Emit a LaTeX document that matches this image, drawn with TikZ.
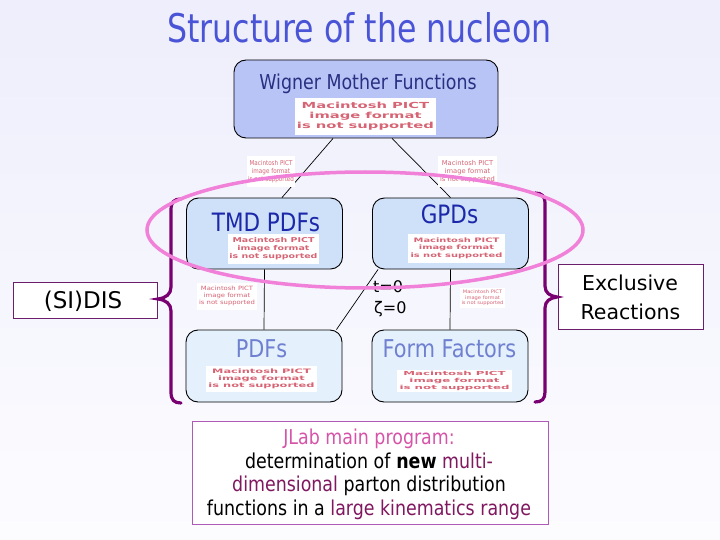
\documentclass[tikz,border=0pt]{standalone}
\usepackage{fontspec}
\usepackage{graphicx}
\setmainfont{DejaVu Sans}
\newfontfamily\tahoma[FakeStretch=0.85]{DejaVu Sans}
\newfontfamily\titlefnt[FakeStretch=0.8]{DejaVu Sans}
\newfontfamily\pictfnt{DejaVu Sans}
\newcommand\fsz[1]{\fontsize{#1}{#1}\selectfont}
\newcommand\pictbold[2]{\resizebox*{#1}{#2}{\pictfnt\bfseries\begin{tabular}{@{}c@{}}Macintosh PICT\\image format\\is not supported\end{tabular}}}
\newcommand\pictthin[2]{\resizebox*{#1}{#2}{\pictfnt\begin{tabular}{@{}c@{}}Macintosh PICT\\image format\\is not supported\end{tabular}}}
\definecolor{bgtop}{RGB}{238,238,252}
\definecolor{bgbot}{RGB}{252,252,255}
\definecolor{titleblue}{RGB}{74,84,214}
\definecolor{wignavy}{RGB}{40,48,130}
\definecolor{wigfill}{RGB}{184,196,246}
\definecolor{midfill}{RGB}{207,225,248}
\definecolor{midtext}{RGB}{28,40,170}
\definecolor{lowfill}{RGB}{228,240,252}
\definecolor{lowtext}{RGB}{112,128,208}
\definecolor{pictred}{RGB}{214,100,116}
\definecolor{bracecol}{RGB}{120,0,112}
\definecolor{ringcol}{RGB}{240,128,216}
\definecolor{frame}{RGB}{107,30,107}
\definecolor{labframe}{RGB}{176,90,184}
\definecolor{jpink}{RGB}{214,84,168}
\definecolor{jpurp}{RGB}{128,24,96}
\begin{document}
\begin{tikzpicture}[x=1pt,y=-1pt,
  rbox/.style={draw=black, line width=0.9pt, rounded corners=12pt, inner sep=0pt},
  wigbox/.style={rbox, fill=wigfill},
  midbox/.style={rbox, fill=midfill, minimum width=156pt, minimum height=71pt},
  lowbox/.style={rbox, fill=lowfill, minimum width=156pt, minimum height=72pt},
  sidebox/.style={draw=frame, line width=0.8pt, fill=white, inner sep=0pt},
  labbox/.style={draw=labframe, line width=0.9pt, fill=white, inner sep=0pt},
  txt/.style={inner sep=0pt, anchor=base},
  pict/.style={fill=white, inner sep=0pt, text=pictred},
  link/.style={draw=black, line width=0.7pt},
  brace/.style={draw=bracecol, line width=3.2pt, line cap=round},
  ring/.style={draw=ringcol, line width=3.5pt}]
\shade[top color=bgtop, bottom color=bgbot] (0pt,0pt) rectangle (720pt,-540pt);
% title
\node[txt, text=titleblue] (title) at (359.5,43) {\titlefnt\fsz{39.5}Structure of the nucleon};
% boxes
\node[wigbox, minimum width=264pt, minimum height=78pt] (wig) at (366,99) {};
\node[midbox] (tmd) at (264.5,233.5) {};
\node[midbox] (gpd) at (450.5,233.5) {};
\node[lowbox] (pdf) at (264,366) {};
\node[lowbox] (ff) at (450,366) {};
\node[sidebox, minimum width=144pt, minimum height=36pt] (sidis) at (85,300) {};
\node[sidebox, minimum width=145pt, minimum height=65pt] (excl) at (630.5,296.5) {};
\node[labbox, minimum width=356pt, minimum height=103pt] (jlab) at (370,472.5) {};
% connectors
\draw[link] ([xshift=-33pt]wig.south) -- ([xshift=17.5pt]tmd.north);
\draw[link] ([xshift=26pt]wig.south) -- (gpd.north);
\draw[link] (tmd.south) -- (pdf.north);
\draw[link] (gpd.south) -- (ff.north);
\draw[link] ([xshift=6pt]gpd.south west) -- ([xshift=-6pt]pdf.north east);
% texts in boxes
\node[txt, text=wignavy] (wigt) at (368,90) {\tahoma\fsz{20.5}Wigner Mother Functions};
\node[txt, text=midtext] (tmdt) at (266,231) {\tahoma\fsz{25.3}TMD PDFs};
\node[txt, text=midtext] (gpdt) at (449.5,223) {\tahoma\fsz{25.3}GPDs};
\node[txt, text=lowtext] (pdft) at (261.5,357) {\tahoma\fsz{24.5}PDFs};
\node[txt, text=lowtext] (fft) at (449.5,357) {\tahoma\fsz{24.5}Form Factors};
\node[txt] (sidist) at (83,308) {\fsz{23}(SI)DIS};
\node[txt] (exclt1) at (630,290) {\fsz{20.5}Exclusive};
\node[txt] (exclt2) at (630.5,319) {\fsz{20.5}Reactions};
\node[txt, anchor=base west] (tzero) at (373,292) {\fsz{16}t=0};
\node[txt, anchor=base west] (zzero) at (374,313) {\fsz{16}ζ=0};
% placeholders
\node[pict, minimum width=141pt, minimum height=37pt] (p1) at (365.5,116.5) {\pictbold{137pt}{30pt}};
\node[pict, minimum width=48pt, minimum height=31pt] (p2) at (271,171.5) {\pictthin{46pt}{24pt}};
\node[pict, minimum width=59pt, minimum height=31pt] (p3) at (467.5,171.5) {\pictthin{55pt}{24pt}};
\node[pict, minimum width=91pt, minimum height=30pt] (p4) at (273.5,249) {\pictbold{88pt}{24pt}};
\node[pict, minimum width=97pt, minimum height=29pt] (p5) at (456.5,248.5) {\pictbold{92pt}{22pt}};
\node[pict, minimum width=60pt, minimum height=27pt] (p6) at (227,296.5) {\pictthin{56pt}{21pt}};
\node[pict, minimum width=111pt, minimum height=26pt] (p7) at (261.5,379) {\pictbold{106pt}{22pt}};
\node[pict, minimum width=45pt, minimum height=20pt] (p8) at (482.5,298) {\pictthin{42pt}{17pt}};
\node[pict, minimum width=115pt, minimum height=22pt] (p9) at (454.5,381) {\pictbold{110pt}{20pt}};
% JLab text
\node[txt, text=jpink] (j1) at (369,444.5) {\tahoma\fsz{20.5}JLab main program:};
\node[txt] (j2) at (369,468) {\tahoma\fsz{20.5}determination of \textbf{new} \textcolor{jpurp}{multi-}};
\node[txt] (j3) at (369,491.5) {\tahoma\fsz{20.5}\textcolor{jpurp}{dimensional} parton distribution};
\node[txt] (j4) at (369,515) {\tahoma\fsz{20.5}functions in a \textcolor{jpurp}{large kinematics range}};
% braces
\draw[brace] (181,199) .. controls (174,199) and (171,202) .. (171,210) -- (171,287)
  .. controls (171,294) and (166,298) .. (158,299) .. controls (166,300) and (171,304) .. (171,311)
  -- (171,392) .. controls (171,400) and (174,403) .. (181,403);
\draw[brace] (535,193) .. controls (542,193) and (545,196) .. (545,204) -- (545,286)
  .. controls (545,293) and (550,296) .. (557,297) .. controls (550,298) and (545,301) .. (545,308)
  -- (545,392) .. controls (545,399) and (542,402) .. (535,402);
% ring
\draw[ring] (365,230) ellipse [x radius=218, y radius=58];
\end{tikzpicture}
\end{document}
